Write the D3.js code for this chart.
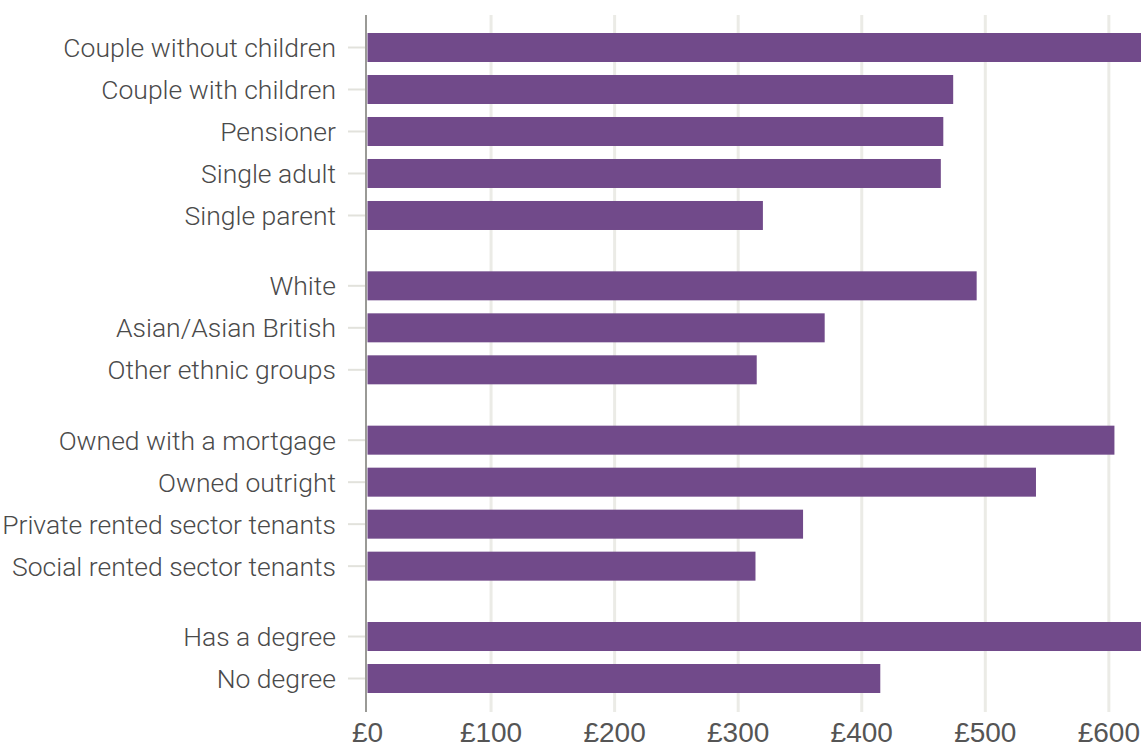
<!DOCTYPE html>
<html>
<head>
<meta charset="utf-8">
<script src="https://cdn.jsdelivr.net/npm/d3@7"></script>
<style>
  html, body { margin: 0; padding: 0; background: #fff; }
  svg { display: block; }
</style>
</head>
<body>
<svg id="chart" width="1141" height="749"></svg>
<script>
// Data
const categories = [
  "Couple without children", "Couple with children", "Pensioner", "Single adult", "Single parent",
  "White", "Asian/Asian British", "Other ethnic groups",
  "Owned with a mortgage", "Owned outright", "Private rented sector tenants", "Social rented sector tenants",
  "Has a degree", "No degree"
];
const groups = [0, 0, 0, 0, 0, 1, 1, 1, 2, 2, 2, 2, 3, 3];
const values = [640, 474, 466, 464, 320, 493, 370, 315, 604.5, 541, 352.5, 314, 640, 415];
const tickValues = [0, 100, 200, 300, 400, 500, 600];
const tickLabels = ["£0", "£100", "£200", "£300", "£400", "£500", "£600"];

const svg = d3.select("#chart");

const x = d3.scaleLinear().domain([0, 626]).range([367.5, 1141]);

// slot positions: row index plus group gap
const groupGap = 0.675;
const slots = categories.map((c, i) => i + groups[i] * groupGap);
const y = d3.scaleLinear().domain([0, d3.max(slots)]).range([33, 664]);
const barH = 29;

const gTop = 15, gBottom = 712;

// gridlines
svg.append("g").selectAll("line").data(tickValues.filter(v => v > 0)).join("line")
  .attr("x1", d => x(d)).attr("x2", d => x(d))
  .attr("y1", gTop).attr("y2", gBottom)
  .attr("stroke", "#ebebe6").attr("stroke-width", 3);

// y tick marks
svg.append("g").selectAll("line").data(categories).join("line")
  .attr("x1", 348).attr("x2", 366)
  .attr("y1", (d, i) => y(slots[i]) + barH / 2)
  .attr("y2", (d, i) => y(slots[i]) + barH / 2)
  .attr("stroke", "#e2e2dc").attr("stroke-width", 2);

// bars
svg.append("g").selectAll("rect").data(values).join("rect")
  .attr("x", x(0))
  .attr("y", (d, i) => y(slots[i]))
  .attr("width", d => Math.max(0, x(d) - x(0)))
  .attr("height", barH)
  .attr("fill", "#714a8a");

// axis line
svg.append("line")
  .attr("x1", x(0) - 1.5).attr("x2", x(0) - 1.5)
  .attr("y1", gTop).attr("y2", gBottom)
  .attr("stroke", "#9a9a96").attr("stroke-width", 2);

// y labels
svg.append("g").selectAll("text").data(categories).join("text")
  .attr("x", 336)
  .attr("y", (d, i) => y(slots[i]) + barH / 2)
  .attr("dy", "0.36em")
  .attr("text-anchor", "end")
  .attr("font-family", "Roboto, 'Liberation Sans', sans-serif")
  .attr("font-weight", 300)
  .attr("font-size", 26.5)
  .attr("fill", "#4a4a4a")
  .text(d => d);

// x tick labels
svg.append("g").selectAll("text").data(tickValues).join("text")
  .attr("x", d => x(d))
  .attr("y", 742)
  .attr("text-anchor", "middle")
  .attr("font-family", "'Liberation Sans Narrow', 'Liberation Sans', sans-serif")
  .attr("font-size", 28)
  .attr("fill", "#555")
  .text((d, i) => tickLabels[i]);
</script>
</body>
</html>
